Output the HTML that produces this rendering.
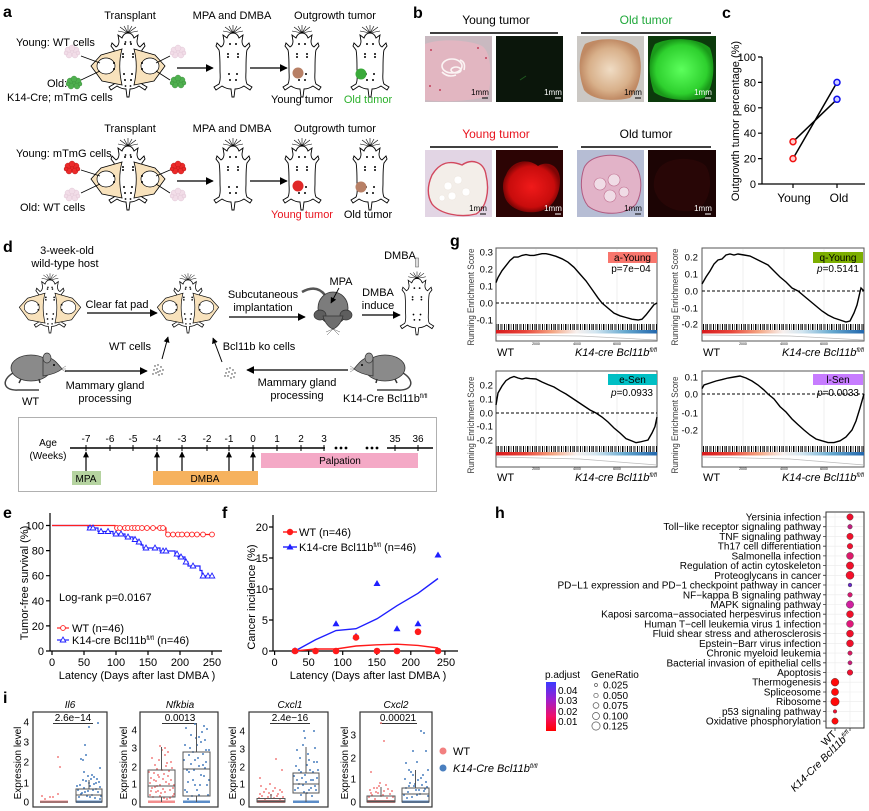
<!DOCTYPE html>
<html><head><meta charset="utf-8">
<style>
html,body{margin:0;padding:0;background:#fff;}
svg{display:block;}
text{font-family:"Liberation Sans",Arial,sans-serif;fill:#000;}
.t11{font-size:11px;}
.t10{font-size:10px;}
.b{font-weight:bold;font-size:16px;}
.it{font-style:italic;}
.g{fill:#4d4d4d;}
.rl{fill:#3a3a3a;}
</style></head><body>
<svg width="869" height="811" viewBox="0 0 869 811" xmlns="http://www.w3.org/2000/svg">
<defs>
<marker id="ar" viewBox="0 0 10 10" refX="9" refY="5" markerWidth="8" markerHeight="8" markerUnits="userSpaceOnUse" orient="auto"><path d="M0,0 L10,5 L0,10 z" fill="#000"/></marker>
<marker id="ars" viewBox="0 0 10 10" refX="9" refY="5" markerWidth="6" markerHeight="6" markerUnits="userSpaceOnUse" orient="auto"><path d="M0,0 L10,5 L0,10 z" fill="#000"/></marker>
<g id="m">
<path d="M0,-29 C-3,-29 -5,-27 -6,-24 L-10,-27 L-9,-21 C-9,-18 -10,-16 -12,-15 L-16,-19 L-17,-16 L-14,-12 C-13,-8 -13,0 -13,8 C-13,14 -12,18 -14,22 L-19,25 L-17,28 L-11,24 C-8,26 -4,27 -2,27 L-1,35 L1,35 L2,27 C4,27 8,26 11,24 L17,28 L19,25 L14,22 C12,18 13,14 13,8 C13,0 13,-8 14,-12 L17,-16 L16,-19 L12,-15 C10,-16 9,-18 9,-21 L10,-27 L6,-24 C5,-27 3,-29 0,-29 Z" fill="#fff" stroke="#000" stroke-width="0.9"/>
<path d="M0,-29 L-8,-35 M0,-29 L-4,-36 M0,-29 L0,-37 M0,-29 L4,-36 M0,-29 L8,-35 M0,-29 L-10,-31 M0,-29 L10,-31" stroke="#000" stroke-width="0.6"/>
<g fill="#000"><circle cx="-3" cy="-18" r="1"/><circle cx="3" cy="-18" r="1"/><circle cx="-5" cy="-8" r="1"/><circle cx="5" cy="-8" r="1"/><circle cx="-5" cy="-5" r="1"/><circle cx="5" cy="-5" r="1"/><circle cx="-4" cy="12" r="1"/><circle cx="4" cy="12" r="1"/><circle cx="-3" cy="18" r="1"/><circle cx="3" cy="18" r="1"/></g>
</g>
<g id="lobe">
<path d="M-6,-13 L-27,-7 L-37,4 L-26,19 L-6,23 C-9,10 -9,-2 -6,-13 Z" fill="#f8e2bc" stroke="#000" stroke-width="0.8"/>
<ellipse cx="-22" cy="4" rx="9" ry="8" fill="#fff" stroke="#000" stroke-width="0.7"/>
<path d="M-15,1 l2,0 M-15,7 l2,0" stroke="#000" stroke-width="1.6"/>
</g>
<g id="fm"><use href="#m"/><use href="#lobe"/><use href="#lobe" transform="scale(-1,1)"/>
<g fill="#000"><circle cx="-2.5" cy="-20" r="0.9"/><circle cx="2.5" cy="-20" r="0.9"/><circle cx="-2.5" cy="24" r="0.9"/><circle cx="2.5" cy="24" r="0.9"/></g></g>
<g id="cl"><circle cx="0" cy="0" r="4"/><circle cx="-4" cy="-2" r="3"/><circle cx="4" cy="-2" r="3"/><circle cx="-3" cy="3" r="3"/><circle cx="3" cy="3" r="3"/><circle cx="0" cy="-4" r="3"/><circle cx="-6" cy="1" r="2"/><circle cx="6" cy="1" r="2"/></g>
<g id="rat">
<path d="M-20,5 C-32,12 -30,23 -15,22 L6,22" stroke="#444" stroke-width="1.5" fill="none"/>
<ellipse cx="-2" cy="0" rx="20" ry="13" fill="#8a8a8a" stroke="#333" stroke-width="0.8"/>
<path d="M10,-10 C19,-13 25,-4 29,1 C24,5 17,7 10,8 Z" fill="#8a8a8a" stroke="#333" stroke-width="0.8"/>
<ellipse cx="14" cy="-10" rx="4" ry="5" fill="#9a9a9a" stroke="#333" stroke-width="0.7"/>
<circle cx="21" cy="-3" r="1" fill="#000"/>
<path d="M28,1 l5,-3 M28,1 l5,0 M28,1 l5,3" stroke="#555" stroke-width="0.4"/>
<path d="M-12,11 l-2,4 M6,11 l1,4" stroke="#333" stroke-width="1.5"/>
</g>
<pattern id="bc" width="19" height="10" patternUnits="userSpaceOnUse">
<rect x="0" y="0" width="1" height="10" fill="#000"/><rect x="2" width="0.6" height="10" fill="#000"/><rect x="3.6" width="1.2" height="10" fill="#000"/><rect x="6" width="0.5" height="10" fill="#000"/><rect x="7.5" width="0.9" height="10" fill="#000"/><rect x="10" width="1" height="10" fill="#000"/><rect x="12.4" width="0.5" height="10" fill="#000"/><rect x="14" width="1.4" height="10" fill="#000"/><rect x="16.8" width="0.6" height="10" fill="#000"/>
</pattern>
<linearGradient id="rb" x1="0" x2="1" y1="0" y2="0"><stop offset="0" stop-color="#d7191c"/><stop offset="0.18" stop-color="#e8453a"/><stop offset="0.35" stop-color="#f4a582"/><stop offset="0.5" stop-color="#f7f0ee"/><stop offset="0.62" stop-color="#d1e5f0"/><stop offset="0.8" stop-color="#67a9cf"/><stop offset="1" stop-color="#2166ac"/></linearGradient>
<linearGradient id="pa" x1="0" x2="0" y1="0" y2="1"><stop offset="0" stop-color="#3a3aff"/><stop offset="0.35" stop-color="#9b20d0"/><stop offset="0.7" stop-color="#f0106a"/><stop offset="1" stop-color="#ff0000"/></linearGradient>
<radialGradient id="gg" cx="0.5" cy="0.5" r="0.5"><stop offset="0" stop-color="#5cff5c"/><stop offset="0.8" stop-color="#2ed02e"/><stop offset="1" stop-color="#1a9a1a"/></radialGradient>
<radialGradient id="bg1" cx="0.5" cy="0.5" r="0.5"><stop offset="0" stop-color="#f0dcc4"/><stop offset="0.7" stop-color="#d8b08a"/><stop offset="1" stop-color="#c08a64"/></radialGradient>
<radialGradient id="rg" cx="0.5" cy="0.5" r="0.5"><stop offset="0" stop-color="#f01a1a"/><stop offset="0.8" stop-color="#c80c0c"/><stop offset="1" stop-color="#800505"/></radialGradient>
<g id="tri"><path d="M0,-3 L2.8,2 L-2.8,2 Z" fill="#fff" stroke="#1f1fff" stroke-width="0.9"/></g>
</defs>

<!-- ================= PANEL A ================= -->
<text x="3" y="17" class="b">a</text>
<text x="130" y="19" class="t11" text-anchor="middle">Transplant</text>
<text x="232" y="19" class="t11" text-anchor="middle">MPA and DMBA</text>
<text x="335" y="19" class="t11" text-anchor="middle">Outgrowth tumor</text>
<text x="16" y="46" class="t11">Young: WT cells</text>
<text x="47" y="87" class="t11">Old:</text>
<text x="7" y="101" class="t11">K14-Cre; mTmG cells</text>
<use href="#fm" transform="translate(128,62)"/>
<g fill="#f2dde8" stroke="#dcc0d0" stroke-width="0.4"><use href="#cl" x="72" y="52"/><use href="#cl" x="178" y="52"/></g>
<g fill="#4fb04f" stroke="#3a8a3a" stroke-width="0.4"><use href="#cl" x="74" y="83"/><use href="#cl" x="178" y="82"/></g>
<path d="M81,56 L100,63 M81,80 L100,71 M170,56 L156,63 M170,80 L156,71" stroke="#000" stroke-width="0.8"/>
<line x1="177" y1="68" x2="213" y2="68" stroke="#000" stroke-width="1.3" marker-end="url(#ar)"/>
<line x1="250" y1="68" x2="287" y2="68" stroke="#000" stroke-width="1.3" marker-end="url(#ar)"/>
<use href="#m" transform="translate(233,62)"/>
<use href="#m" transform="translate(302,62)"/>
<use href="#m" transform="translate(370,62)"/>
<circle cx="298" cy="73" r="5.5" fill="#b88066"/>
<circle cx="361" cy="74" r="5.5" fill="#3aaa3a"/>
<text x="302" y="103" class="t11" text-anchor="middle">Young tumor</text>
<text x="368" y="103" class="t11" text-anchor="middle" style="fill:#2bb02b">Old tumor</text>

<text x="130" y="132" class="t11" text-anchor="middle">Transplant</text>
<text x="232" y="132" class="t11" text-anchor="middle">MPA and DMBA</text>
<text x="335" y="132" class="t11" text-anchor="middle">Outgrowth tumor</text>
<text x="16" y="157" class="t11">Young: mTmG cells</text>
<text x="20" y="211" class="t11">Old: WT cells</text>
<use href="#fm" transform="translate(128,175)"/>
<g fill="#ec2a2a" stroke="#b01010" stroke-width="0.4"><use href="#cl" x="72" y="168"/><use href="#cl" x="178" y="168"/></g>
<g fill="#f2dde8" stroke="#dcc0d0" stroke-width="0.4"><use href="#cl" x="72" y="195"/><use href="#cl" x="178" y="195"/></g>
<path d="M81,170 L100,176 M81,193 L100,184 M170,170 L156,176 M170,193 L156,184" stroke="#000" stroke-width="0.8"/>
<line x1="177" y1="181" x2="213" y2="181" stroke="#000" stroke-width="1.3" marker-end="url(#ar)"/>
<line x1="250" y1="181" x2="287" y2="181" stroke="#000" stroke-width="1.3" marker-end="url(#ar)"/>
<use href="#m" transform="translate(233,175)"/>
<use href="#m" transform="translate(302,175)"/>
<use href="#m" transform="translate(370,175)"/>
<circle cx="298" cy="186" r="5.5" fill="#e02828"/>
<circle cx="361" cy="187" r="5.5" fill="#b88066"/>
<text x="302" y="218" class="t11" text-anchor="middle" style="fill:#e8141e">Young tumor</text>
<text x="368" y="218" class="t11" text-anchor="middle">Old tumor</text>

<!-- ================= PANEL B ================= -->
<text x="413" y="18" class="b">b</text>
<text x="496" y="24" text-anchor="middle" style="font-size:12px">Young tumor</text>
<text x="646" y="24" text-anchor="middle" style="font-size:12px;fill:#1fa83a">Old tumor</text>
<line x1="430" y1="33" x2="558" y2="33" stroke="#000" stroke-width="1.6"/>
<line x1="581" y1="33" x2="711" y2="33" stroke="#000" stroke-width="1.6"/>
<rect x="425" y="36" width="67" height="66" fill="#c9b9c0"/>
<path d="M425,44 C440,38 470,40 482,46 C492,52 492,80 488,96 C470,102 440,102 425,100 Z" fill="#e2b6c1"/>
<g fill="none" stroke="#fbf4f4" stroke-width="1.6"><ellipse cx="452" cy="66" rx="10" ry="7"/><ellipse cx="456" cy="70" rx="5" ry="3"/><path d="M442,72 q6,6 14,3 M460,60 q6,2 4,10"/></g>
<g fill="#c2405a"><circle cx="431" cy="50" r="1"/><circle cx="486" cy="58" r="1"/><circle cx="440" cy="90" r="1"/><circle cx="478" cy="48" r="1"/><circle cx="430" cy="86" r="1"/></g>
<rect x="496" y="36" width="67" height="66" fill="#0b160b"/>
<path d="M520,80 l6,-4" stroke="#1f5a1f" stroke-width="1"/>
<rect x="577" y="36" width="67" height="66" fill="#cbc8c4"/>
<path d="M585,44 C600,36 630,38 638,50 C644,66 640,88 630,98 C612,102 592,100 584,90 C578,74 578,56 585,44 Z" fill="url(#bg1)"/>
<rect x="648" y="36" width="68" height="66" fill="#0c3a0c"/>
<path d="M655,44 C670,36 700,38 710,48 C716,64 714,88 704,98 C688,102 664,100 654,92 C648,76 648,56 655,44 Z" fill="url(#gg)"/>
<g text-anchor="middle" style="font-size:8px">
<text x="480" y="95">1mm</text><text x="553" y="95" style="fill:#fff">1mm</text><text x="633" y="95">1mm</text><text x="703" y="95" style="fill:#fff">1mm</text></g>
<path d="M482,98 h6 M635,98 h6" stroke="#000" stroke-width="1"/>
<path d="M555,98 h6 M705,98 h6" stroke="#fff" stroke-width="1"/>

<text x="496" y="138" text-anchor="middle" style="font-size:12px;fill:#e8141e">Young tumor</text>
<text x="646" y="138" text-anchor="middle" style="font-size:12px">Old tumor</text>
<line x1="430" y1="147" x2="558" y2="147" stroke="#000" stroke-width="1.6"/>
<line x1="581" y1="147" x2="711" y2="147" stroke="#000" stroke-width="1.6"/>
<rect x="425" y="150" width="67" height="67" fill="#e2d5e4"/>
<path d="M432,175 C440,162 450,160 462,165 C472,158 484,162 486,175 C490,192 486,208 476,214 C460,218 440,214 432,204 C426,194 428,184 432,175 Z" fill="#f3eee9" stroke="#d2485e" stroke-width="1.4"/>
<g fill="#fff" stroke="#ece4dc" stroke-width="0.5"><circle cx="448" cy="186" r="4"/><circle cx="458" cy="180" r="4"/><circle cx="452" cy="196" r="4"/><circle cx="466" cy="192" r="4"/><circle cx="442" cy="198" r="3"/></g>
<rect x="496" y="150" width="67" height="67" fill="#2c0404"/>
<path d="M506,175 C512,160 528,158 538,166 C548,160 560,166 560,180 C560,196 552,210 536,212 C520,214 506,206 504,194 C502,186 503,180 506,175 Z" fill="url(#rg)"/>
<rect x="577" y="150" width="67" height="67" fill="#b6bdd4"/>
<path d="M584,168 C590,154 616,152 630,160 C642,168 644,190 636,204 C626,216 600,216 588,206 C580,196 580,180 584,168 Z" fill="#e2b3c8" stroke="#b05a80" stroke-width="1"/>
<g fill="#f0dce6" stroke="#c07090" stroke-width="0.6"><circle cx="600" cy="184" r="6"/><circle cx="614" cy="180" r="6"/><circle cx="610" cy="196" r="6"/><circle cx="624" cy="192" r="5"/></g>
<rect x="648" y="150" width="68" height="67" fill="#1c0404"/>
<path d="M658,170 C666,156 696,156 706,166 C714,180 710,204 696,210 C680,214 662,208 656,194 C652,186 654,176 658,170 Z" fill="#280606"/>
<g text-anchor="middle" style="font-size:8px">
<text x="478" y="211">1mm</text><text x="553" y="211" style="fill:#fff">1mm</text><text x="633" y="211">1mm</text><text x="703" y="211" style="fill:#fff">1mm</text></g>
<path d="M480,214 h6 M635,214 h6" stroke="#000" stroke-width="1"/>
<path d="M555,214 h6 M705,214 h6" stroke="#fff" stroke-width="1"/>

<!-- ================= PANEL C ================= -->
<text x="722" y="18" class="b">c</text>
<line x1="762" y1="57" x2="762" y2="184" stroke="#000" stroke-width="1.2"/>
<line x1="762" y1="184" x2="865" y2="184" stroke="#000" stroke-width="1.2"/>
<path d="M758,57 h4 M758,82.4 h4 M758,107.8 h4 M758,133.2 h4 M758,158.6 h4 M758,184 h4 M793,184 v4 M837,184 v4" stroke="#000" stroke-width="1.2"/>
<g class="t11" text-anchor="end"><text x="756" y="61">100</text><text x="756" y="86.4">80</text><text x="756" y="111.8">60</text><text x="756" y="137.2">40</text><text x="756" y="162.6">20</text><text x="756" y="188">0</text></g>
<text transform="translate(739,121) rotate(-90)" class="t11" text-anchor="middle">Outgrowth tumor percentage (%)</text>
<line x1="793" y1="141.7" x2="837" y2="99.3" stroke="#000" stroke-width="1.5"/>
<line x1="793" y1="158.6" x2="837" y2="82.4" stroke="#000" stroke-width="1.5"/>
<circle cx="793" cy="141.7" r="3" fill="#ffd0d0" stroke="#f01010" stroke-width="1.5"/>
<circle cx="793" cy="158.6" r="3" fill="#ffd0d0" stroke="#f01010" stroke-width="1.5"/>
<circle cx="837" cy="99.3" r="3" fill="#d0d0ff" stroke="#1010f0" stroke-width="1.5"/>
<circle cx="837" cy="82.4" r="3" fill="#d0d0ff" stroke="#1010f0" stroke-width="1.5"/>
<text x="794" y="202" text-anchor="middle" style="font-size:12px">Young</text>
<text x="839" y="202" text-anchor="middle" style="font-size:12px">Old</text>

<!-- ================= PANEL D ================= -->
<text x="3" y="252" class="b">d</text>
<text x="67" y="254" class="t11" text-anchor="middle">3-week-old</text>
<text x="65" y="267" class="t11" text-anchor="middle">wild-type host</text>
<use href="#fm" transform="translate(50,304) scale(0.83)"/>
<use href="#fm" transform="translate(188,304) scale(0.83)"/>
<line x1="87" y1="313" x2="157" y2="313" stroke="#000" stroke-width="1.3" marker-end="url(#ar)"/>
<text x="117" y="308" class="t11" text-anchor="middle">Clear fat pad</text>
<text x="263" y="298" class="t11" text-anchor="middle">Subcutaneous</text>
<text x="263" y="311" class="t11" text-anchor="middle">implantation</text>
<line x1="229" y1="317" x2="305" y2="317" stroke="#000" stroke-width="1.3" marker-end="url(#ar)"/>
<g transform="translate(333,310)">
<path d="M-8,-15 C-15,-24 -24,-22 -31,-18" stroke="#555" stroke-width="2.5" fill="none"/>
<ellipse cx="0" cy="-2" rx="15" ry="16" fill="#7c7c7c" stroke="#333" stroke-width="0.8"/>
<ellipse cx="-13" cy="5" rx="6" ry="5" fill="#5e5e5e" stroke="#333" stroke-width="0.7"/>
<ellipse cx="13" cy="5" rx="6" ry="5" fill="#5e5e5e" stroke="#333" stroke-width="0.7"/>
<path d="M-10,6 C-8,14 -3,18 0,19 C3,18 8,14 10,6 Z" fill="#6e6e6e" stroke="#333" stroke-width="0.7"/>
<path d="M0,19 l-7,3 M0,19 l-6,6 M0,19 l7,3 M0,19 l6,6" stroke="#333" stroke-width="0.4"/>
</g>
<text x="341" y="285" class="t11" text-anchor="middle">MPA</text>
<line x1="339" y1="288" x2="331" y2="303" stroke="#000" stroke-width="0.9" marker-end="url(#ars)"/>
<text x="378" y="296" class="t11" text-anchor="middle">DMBA</text>
<text x="378" y="309" class="t11" text-anchor="middle">induce</text>
<line x1="362" y1="315" x2="400" y2="315" stroke="#000" stroke-width="1.3" marker-end="url(#ar)"/>
<text x="400" y="259" class="t11" text-anchor="middle">DMBA</text>
<rect x="415.5" y="258" width="3" height="9" fill="#ddd" stroke="#555" stroke-width="0.5"/>
<use href="#m" transform="translate(417,304) scale(0.88)"/>
<text x="130" y="350" class="t11" text-anchor="middle">WT cells</text>
<text x="259" y="350" class="t11" text-anchor="middle">Bcl11b ko cells</text>
<line x1="162" y1="359" x2="168" y2="337" stroke="#000" stroke-width="1" marker-end="url(#ars)"/>
<line x1="222" y1="362" x2="213" y2="338" stroke="#000" stroke-width="1" marker-end="url(#ars)"/>
<g fill="#333"><circle cx="155" cy="366" r="0.7"/><circle cx="158" cy="365" r="0.7"/><circle cx="161" cy="367" r="0.7"/><circle cx="154" cy="370" r="0.7"/><circle cx="157" cy="369" r="0.7"/><circle cx="160" cy="371" r="0.7"/><circle cx="163" cy="370" r="0.7"/><circle cx="156" cy="373" r="0.7"/><circle cx="159" cy="375" r="0.7"/><circle cx="162" cy="374" r="0.7"/><circle cx="153" cy="374" r="0.7"/><circle cx="158" cy="372" r="0.7"/>
<circle cx="227" cy="369" r="0.7"/><circle cx="230" cy="368" r="0.7"/><circle cx="233" cy="370" r="0.7"/><circle cx="226" cy="373" r="0.7"/><circle cx="229" cy="372" r="0.7"/><circle cx="232" cy="374" r="0.7"/><circle cx="235" cy="373" r="0.7"/><circle cx="228" cy="376" r="0.7"/><circle cx="231" cy="378" r="0.7"/><circle cx="234" cy="377" r="0.7"/><circle cx="225" cy="376" r="0.7"/></g>
<use href="#rat" transform="translate(33,368)"/>
<use href="#rat" transform="translate(383,368) scale(-1,1)"/>
<line x1="65" y1="371" x2="147" y2="371" stroke="#000" stroke-width="1.3" marker-end="url(#ar)"/>
<line x1="348" y1="370" x2="247" y2="370" stroke="#000" stroke-width="1.3" marker-end="url(#ar)"/>
<text x="105" y="389" class="t11" text-anchor="middle">Mammary gland</text>
<text x="105" y="402" class="t11" text-anchor="middle">processing</text>
<text x="297" y="386" class="t11" text-anchor="middle">Mammary gland</text>
<text x="297" y="399" class="t11" text-anchor="middle">processing</text>
<text x="22" y="405" class="t11">WT</text>
<text x="343" y="402" class="t11">K14-Cre Bcl11b<tspan dy="-4" style="font-size:6px">fl/fl</tspan></text>
<rect x="18.5" y="417.5" width="418" height="74" fill="none" stroke="#b0b0b0" stroke-width="1"/>
<text x="48" y="446" class="t10" text-anchor="middle">Age</text>
<text x="48" y="459" class="t10" text-anchor="middle">(Weeks)</text>
<path d="M70,448 H325 M387,448 H433" stroke="#000" stroke-width="1.5"/>
<g fill="#000"><circle cx="336" cy="448" r="1.4"/><circle cx="341" cy="448" r="1.4"/><circle cx="346" cy="448" r="1.4"/><circle cx="367" cy="448" r="1.4"/><circle cx="372" cy="448" r="1.4"/><circle cx="377" cy="448" r="1.4"/></g>
<path d="M86,445 v6 M110,445 v6 M133,445 v6 M157,445 v6 M182,445 v6 M207,445 v6 M229,445 v6 M253,445 v6 M277,445 v6 M301,445 v6 M324,445 v6 M395,445 v6 M418,445 v6" stroke="#000" stroke-width="1"/>
<g class="t10" text-anchor="middle">
<text x="86" y="442">-7</text><text x="110" y="442">-6</text><text x="133" y="442">-5</text><text x="157" y="442">-4</text><text x="182" y="442">-3</text><text x="207" y="442">-2</text><text x="229" y="442">-1</text><text x="253" y="442">0</text><text x="277" y="442">1</text><text x="301" y="442">2</text><text x="324" y="442">3</text><text x="395" y="442">35</text><text x="418" y="442">36</text></g>
<rect x="72" y="471" width="29" height="14" fill="#b5d3a0"/>
<rect x="153" y="471" width="105" height="14" fill="#f6b25e"/>
<rect x="261" y="453" width="157" height="15" fill="#f4a9c6"/>
<g stroke="#000" stroke-width="1.2">
<line x1="86" y1="471" x2="86" y2="452" marker-end="url(#ars)"/>
<line x1="157" y1="471" x2="157" y2="452" marker-end="url(#ars)"/>
<line x1="182" y1="471" x2="182" y2="452" marker-end="url(#ars)"/>
<line x1="229" y1="471" x2="229" y2="452" marker-end="url(#ars)"/>
<line x1="253" y1="471" x2="253" y2="452" marker-end="url(#ars)"/></g>
<text x="86" y="482" class="t10" text-anchor="middle">MPA</text>
<text x="205" y="482" class="t10" text-anchor="middle">DMBA</text>
<text x="340" y="464" class="t10" text-anchor="middle">Palpation</text>

<!-- ================= PANEL G ================= -->
<text x="450" y="246" class="b">g</text>
<rect x="496" y="248" width="161" height="93" fill="#fff" stroke="#555" stroke-width="1"/>
<path d="M536,249 V324 M577,249 V324 M617,249 V324" stroke="#ececec" stroke-width="0.8"/>
<rect x="496" y="324" width="161" height="6" fill="url(#bc)"/>
<rect x="496" y="330" width="161" height="3.5" fill="url(#rb)"/>
<path d="M496,335 L580,336 L657,340" stroke="#bbb" stroke-width="0.8" fill="none"/>
<line x1="496" y1="303" x2="657" y2="303" stroke="#000" stroke-width="0.9" stroke-dasharray="3,2"/>
<polyline fill="none" stroke="#000" stroke-width="1.4" points="496,282.6 498,277.5 502,270.7 506,265.6 510,260.5 514,257.1 518,257.1 522,255.4 526,254.6 530,255.4 534,255.4 538,254.6 542,253.7 546,253.7 550,254.6 556,256.3 562,258.8 568,262.2 574,267.3 580,274.1 586,280.9 592,289.4 598,297.9 602,303 608,308.1 614,313.2 620,315.8 626,317.5 632,319.2 638,320 642,319.2 646,314.9 650,309.8 654,304.7 657,303"/>
<g style="font-size:9.6px" class="g" text-anchor="end"><text x="493" y="255.5">0.3</text><text x="493" y="272.5">0.2</text><text x="493" y="289.5">0.1</text><text x="493" y="306.5">0.0</text><text x="493" y="323.5">-0.1</text></g>
<g style="font-size:3.5px" class="g" text-anchor="middle"><text x="536" y="345">2000</text><text x="577" y="345">4000</text><text x="617" y="345">6000</text></g>
<text transform="translate(474,297) rotate(-90)" text-anchor="middle" style="font-size:8.8px" class="rl" textLength="97" lengthAdjust="spacingAndGlyphs">Running Enrichment Score</text>
<rect x="608" y="252" width="49" height="11" fill="#f8766d"/>
<text x="632.5" y="261" text-anchor="middle" style="font-size:10px">a-Young</text>
<text x="631" y="272" text-anchor="middle" style="font-size:10px">p=7e−04</text>
<text x="497" y="356" class="t11">WT</text>
<text x="657" y="356" class="t11 it" text-anchor="end">K14-cre Bcl11b<tspan dy="-4" style="font-size:6px">fl/fl</tspan></text>
<rect x="702" y="248" width="162" height="93" fill="#fff" stroke="#555" stroke-width="1"/>
<path d="M743,249 V324 M784,249 V324 M824,249 V324" stroke="#ececec" stroke-width="0.8"/>
<rect x="702" y="324" width="162" height="6" fill="url(#bc)"/>
<rect x="702" y="330" width="162" height="3.5" fill="url(#rb)"/>
<path d="M702,335 L790,336 L864,340" stroke="#bbb" stroke-width="0.8" fill="none"/>
<line x1="702" y1="291" x2="864" y2="291" stroke="#000" stroke-width="0.9" stroke-dasharray="3,2"/>
<polyline fill="none" stroke="#000" stroke-width="1.4" points="702,284 706,277 710,271 714,264 718,260 722,259 726,255 730,254 734,255 738,254 744,255 750,256 756,259 762,262 768,265 774,271 780,277 786,282 792,288 798,291 804,296 810,301 816,306 822,311 828,315 834,318 840,320 846,322 850,321 854,313 857,305 860,292 861,288 864,291"/>
<g style="font-size:9.6px" class="g" text-anchor="end"><text x="698" y="260.5">0.2</text><text x="698" y="277.5">0.1</text><text x="698" y="294.5">0.0</text><text x="698" y="311.5">-0.1</text><text x="698" y="327.5">-0.2</text></g>
<g style="font-size:3.5px" class="g" text-anchor="middle"><text x="743" y="345">2000</text><text x="784" y="345">4000</text><text x="824" y="345">6000</text></g>
<text transform="translate(678,297) rotate(-90)" text-anchor="middle" style="font-size:8.8px" class="rl" textLength="97" lengthAdjust="spacingAndGlyphs">Running Enrichment Score</text>
<rect x="813" y="252" width="50" height="11" fill="#7cae00"/>
<text x="838" y="261" text-anchor="middle" style="font-size:10px">q-Young</text>
<text x="838" y="272" text-anchor="middle" style="font-size:10px"><tspan class="it">p</tspan>=0.5141</text>
<text x="703" y="356" class="t11">WT</text>
<text x="864" y="356" class="t11 it" text-anchor="end">K14-cre Bcl11b<tspan dy="-4" style="font-size:6px">fl/fl</tspan></text>
<rect x="496" y="371" width="161" height="96" fill="#fff" stroke="#555" stroke-width="1"/>
<path d="M536,372 V446 M577,372 V446 M617,372 V446" stroke="#ececec" stroke-width="0.8"/>
<rect x="496" y="446" width="161" height="6" fill="url(#bc)"/>
<rect x="496" y="452" width="161" height="3.5" fill="url(#rb)"/>
<path d="M496,457 L580,459 L657,465" stroke="#bbb" stroke-width="0.8" fill="none"/>
<line x1="496" y1="413" x2="657" y2="413" stroke="#000" stroke-width="0.9" stroke-dasharray="3,2"/>
<polyline fill="none" stroke="#000" stroke-width="1.4" points="496,405 498,393 502,386 506,380.6 510,378 514,376.5 518,378 522,379 526,378 530,378.6 536,379 542,382 548,384.6 554,387 560,390.7 566,394 572,398 578,402 584,406 590,410 596,413 602,417 608,422 614,428 620,433 626,438.6 632,441 636,442.7 640,442 644,441 648,440 652,433 655,426.5 657,417"/>
<g style="font-size:9.6px" class="g" text-anchor="end"><text x="493" y="388.5">0.2</text><text x="493" y="402.5">0.1</text><text x="493" y="416.5">0.0</text><text x="493" y="429.5">-0.1</text><text x="493" y="443.5">-0.2</text></g>
<g style="font-size:3.5px" class="g" text-anchor="middle"><text x="536" y="470">2000</text><text x="577" y="470">4000</text><text x="617" y="470">6000</text></g>
<text transform="translate(474,425) rotate(-90)" text-anchor="middle" style="font-size:8.8px" class="rl" textLength="97" lengthAdjust="spacingAndGlyphs">Running Enrichment Score</text>
<rect x="608" y="374" width="49" height="11" fill="#00bfc4"/>
<text x="632.5" y="383" text-anchor="middle" style="font-size:10px">e-Sen</text>
<text x="632" y="396" text-anchor="middle" style="font-size:10px"><tspan class="it">p</tspan>=0.0933</text>
<text x="497" y="481" class="t11">WT</text>
<text x="657" y="481" class="t11 it" text-anchor="end">K14-cre Bcl11b<tspan dy="-4" style="font-size:6px">fl/fl</tspan></text>
<rect x="702" y="371" width="162" height="96" fill="#fff" stroke="#555" stroke-width="1"/>
<path d="M743,372 V446 M784,372 V446 M824,372 V446" stroke="#ececec" stroke-width="0.8"/>
<rect x="702" y="446" width="162" height="6" fill="url(#bc)"/>
<rect x="702" y="452" width="162" height="3.5" fill="url(#rb)"/>
<path d="M702,457 L790,459 L864,465" stroke="#bbb" stroke-width="0.8" fill="none"/>
<line x1="702" y1="394" x2="864" y2="394" stroke="#000" stroke-width="0.9" stroke-dasharray="3,2"/>
<polyline fill="none" stroke="#000" stroke-width="1.4" points="702,388.6 704,385 710,383 716,381 722,379.6 728,378 734,377 740,376 746,378 752,381 758,385 764,390 768,394 774,399 780,406.6 786,412 792,419 798,424.6 804,430 810,435 816,439 822,440.8 828,442.6 834,442.6 840,440.8 846,437 852,430 856,421 860,408 864,394"/>
<g style="font-size:9.6px" class="g" text-anchor="end"><text x="698" y="380.5">0.1</text><text x="698" y="397.5">0.0</text><text x="698" y="416.5">-0.1</text><text x="698" y="433.5">-0.2</text></g>
<g style="font-size:3.5px" class="g" text-anchor="middle"><text x="743" y="470">2000</text><text x="784" y="470">4000</text><text x="824" y="470">6000</text></g>
<text transform="translate(678,425) rotate(-90)" text-anchor="middle" style="font-size:8.8px" class="rl" textLength="97" lengthAdjust="spacingAndGlyphs">Running Enrichment Score</text>
<rect x="813" y="374" width="50" height="11" fill="#c77cff"/>
<text x="838" y="383" text-anchor="middle" style="font-size:10px">l-Sen</text>
<text x="838" y="396" text-anchor="middle" style="font-size:10px"><tspan class="it">p</tspan>=0.0033</text>
<text x="703" y="481" class="t11">WT</text>
<text x="864" y="481" class="t11 it" text-anchor="end">K14-cre Bcl11b<tspan dy="-4" style="font-size:6px">fl/fl</tspan></text>

<!-- ================= PANEL E ================= -->
<text x="3" y="518" class="b">e</text>
<line x1="50" y1="513" x2="50" y2="651" stroke="#000" stroke-width="1.2"/>
<line x1="50" y1="651" x2="222" y2="651" stroke="#000" stroke-width="1.2"/>
<path d="M46,525.5 h4 M46,550.6 h4 M46,575.7 h4 M46,600.8 h4 M46,625.9 h4 M46,651 h4 M52,651 v4 M84,651 v4 M116,651 v4 M148,651 v4 M180,651 v4 M212,651 v4" stroke="#000" stroke-width="1.2"/>
<g class="t11" text-anchor="end"><text x="44" y="529.5">100</text><text x="44" y="554.6">80</text><text x="44" y="579.7">60</text><text x="44" y="604.8">40</text><text x="44" y="629.9">20</text><text x="44" y="655">0</text></g>
<g class="t11" text-anchor="middle"><text x="52" y="666">0</text><text x="84" y="666">50</text><text x="116" y="666">100</text><text x="148" y="666">150</text><text x="180" y="666">200</text><text x="212" y="666">250</text></g>
<text transform="translate(28,583) rotate(-90)" class="t11" text-anchor="middle">Tumor-free survival (%)</text>
<text x="137" y="679" class="t11" text-anchor="middle">Latency (Days after last DMBA )</text>
<path d="M52,525.5 H88 V528 H98 V531.5 H113 V534 H125 V537 H133 V539.5 H137 V542 H141 V545 H143 V548 H160 V551 H175 V554 H178 V557 H185 V562 H188 V566 H200 V570.5 H202 V576 H213" fill="none" stroke="#1f1fff" stroke-width="1.2"/>
<path d="M52,525.5 H115 V528 H166 V534.5 H212" fill="none" stroke="#ff2020" stroke-width="1.2"/>
<g fill="#fff" stroke="#ff2020" stroke-width="0.9">
<circle cx="117" cy="528" r="2.4"/><circle cx="120" cy="528" r="2.4"/><circle cx="125" cy="528" r="2.4"/><circle cx="128" cy="528" r="2.4"/><circle cx="132" cy="528" r="2.4"/><circle cx="135" cy="528" r="2.4"/><circle cx="138" cy="528" r="2.4"/><circle cx="142" cy="528" r="2.4"/><circle cx="147" cy="528" r="2.4"/><circle cx="153" cy="528" r="2.4"/><circle cx="160" cy="528" r="2.4"/><circle cx="163" cy="528" r="2.4"/>
<circle cx="168" cy="534.5" r="2.4"/><circle cx="173" cy="534.5" r="2.4"/><circle cx="178" cy="534.5" r="2.4"/><circle cx="182" cy="534.5" r="2.4"/><circle cx="187" cy="534.5" r="2.4"/><circle cx="192" cy="534.5" r="2.4"/><circle cx="197" cy="534.5" r="2.4"/><circle cx="203" cy="534.5" r="2.4"/><circle cx="212" cy="534.5" r="2.4"/></g>
<use href="#tri" x="90" y="528"/><use href="#tri" x="93" y="528"/><use href="#tri" x="101" y="531.5"/><use href="#tri" x="108" y="531.5"/><use href="#tri" x="116" y="534"/><use href="#tri" x="121" y="534"/><use href="#tri" x="128" y="537"/><use href="#tri" x="135" y="539.5"/><use href="#tri" x="139" y="542"/><use href="#tri" x="146" y="548"/><use href="#tri" x="155" y="548"/><use href="#tri" x="163" y="551"/><use href="#tri" x="166" y="551"/><use href="#tri" x="177" y="554"/><use href="#tri" x="181" y="557"/><use href="#tri" x="186" y="562"/><use href="#tri" x="193" y="566"/><use href="#tri" x="203" y="576"/><use href="#tri" x="208" y="576"/><use href="#tri" x="212" y="576"/>
<text x="59" y="601" class="t11">Log-rank p=0.0167</text>
<line x1="57" y1="628" x2="69" y2="628" stroke="#ff2020" stroke-width="1.2"/><circle cx="63" cy="628" r="2.4" fill="#fff" stroke="#ff2020" stroke-width="0.9"/>
<text x="72" y="632" class="t11">WT (n=46)</text>
<line x1="57" y1="640" x2="69" y2="640" stroke="#1f1fff" stroke-width="1.2"/><use href="#tri" x="63" y="640"/>
<text x="72" y="644" class="t11">K14-cre Bcl11b<tspan dy="-4" style="font-size:6px">fl/fl</tspan><tspan dy="4"> (n=46)</tspan></text>

<!-- ================= PANEL F ================= -->
<text x="222" y="518" class="b">f</text>
<line x1="273" y1="515" x2="273" y2="651" stroke="#000" stroke-width="1.2"/>
<line x1="273" y1="651" x2="458" y2="651" stroke="#000" stroke-width="1.2"/>
<path d="M269,527 h4 M269,558 h4 M269,589 h4 M269,620 h4 M269,651 h4 M274.6,651 v4 M308.6,651 v4 M342.7,651 v4 M376.8,651 v4 M410.8,651 v4 M444.9,651 v4" stroke="#000" stroke-width="1.2"/>
<g class="t11" text-anchor="end"><text x="268" y="531">20</text><text x="268" y="562">15</text><text x="268" y="593">10</text><text x="268" y="624">5</text><text x="268" y="655">0</text></g>
<g class="t11" text-anchor="middle"><text x="274.6" y="666">0</text><text x="308.6" y="666">50</text><text x="342.7" y="666">100</text><text x="376.8" y="666">150</text><text x="410.8" y="666">200</text><text x="446" y="666">250</text></g>
<text transform="translate(255,597) rotate(-90)" class="t11" text-anchor="middle">Cancer incidence (%)</text>
<text x="368" y="679" class="t11" text-anchor="middle">Latency (Days after last DMBA )</text>
<polyline fill="none" stroke="#1f1fff" stroke-width="1.4" points="295,651 315.5,639.8 336,630.5 356,628.7 377,618.8 397,605.7 418,593.3 438,578.5"/>
<polyline fill="none" stroke="#ff1a1a" stroke-width="1.4" points="295,651 315.5,649 336,649 356,646 377,644.8 397,644.2 418,645.4 438,648"/>
<g fill="#1f1fff"><path d="M295,647 l3.5,6 h-7z"/><path d="M336,620.3 l3.5,6 h-7z"/><path d="M356,632.7 l3.5,6 h-7z"/><path d="M377,580 l3.5,6 h-7z"/><path d="M397,625.3 l3.5,6 h-7z"/><path d="M418,620.3 l3.5,6 h-7z"/><path d="M438,551.5 l3.5,6 h-7z"/></g>
<g fill="#ff1a1a"><circle cx="295" cy="651" r="3.3"/><circle cx="315.5" cy="651" r="3.3"/><circle cx="336" cy="651" r="3.3"/><circle cx="356" cy="637.4" r="3.3"/><circle cx="377" cy="651" r="3.3"/><circle cx="397" cy="651" r="3.3"/><circle cx="418" cy="631.8" r="3.3"/><circle cx="438" cy="651" r="3.3"/></g>
<line x1="283" y1="532" x2="297" y2="532" stroke="#ff1a1a" stroke-width="1.4"/><circle cx="290" cy="532" r="3.2" fill="#ff1a1a"/>
<text x="299" y="536" class="t11">WT (n=46)</text>
<line x1="283" y1="547" x2="297" y2="547" stroke="#1f1fff" stroke-width="1.4"/><path d="M290,543.5 l3.5,6 h-7z" fill="#1f1fff"/>
<text x="299" y="551" class="t11">K14-cre Bcl11b<tspan dy="-4" style="font-size:6px">fl/fl</tspan><tspan dy="4"> (n=46)</tspan></text>

<!-- ================= PANEL H ================= -->
<text x="495" y="518" class="b">h</text>
<rect x="826" y="512" width="38" height="216" fill="#fff" stroke="#333" stroke-width="1"/>
<g stroke="#ebebeb" stroke-width="0.6">
<path d="M835,513 V727 M850,513 V727"/>
<path d="M827,517 H863 M827,526.7 H863 M827,536.4 H863 M827,546.2 H863 M827,555.9 H863 M827,565.6 H863 M827,575.3 H863 M827,585 H863 M827,594.8 H863 M827,604.5 H863 M827,614.2 H863 M827,623.9 H863 M827,633.6 H863 M827,643.4 H863 M827,653.1 H863 M827,662.8 H863 M827,672.5 H863 M827,682.2 H863 M827,692 H863 M827,701.7 H863 M827,711.4 H863 M827,721.1 H863"/></g>
<g style="font-size:10px" text-anchor="end" fill="#1a1a1a">
<text x="821" y="520.5">Yersinia infection</text>
<text x="821" y="530.2">Toll−like receptor signaling pathway</text>
<text x="821" y="539.9">TNF signaling pathway</text>
<text x="821" y="549.7">Th17 cell differentiation</text>
<text x="821" y="559.4">Salmonella infection</text>
<text x="821" y="569.1">Regulation of actin cytoskeleton</text>
<text x="821" y="578.8">Proteoglycans in cancer</text>
<text x="821" y="588.5">PD−L1 expression and PD−1 checkpoint pathway in cancer</text>
<text x="821" y="598.3">NF−kappa B signaling pathway</text>
<text x="821" y="608">MAPK signaling pathway</text>
<text x="821" y="617.7">Kaposi sarcoma−associated herpesvirus infection</text>
<text x="821" y="627.4">Human T−cell leukemia virus 1 infection</text>
<text x="821" y="637.1">Fluid shear stress and atherosclerosis</text>
<text x="821" y="646.9">Epstein−Barr virus infection</text>
<text x="821" y="656.6">Chronic myeloid leukemia</text>
<text x="821" y="666.3">Bacterial invasion of epithelial cells</text>
<text x="821" y="676">Apoptosis</text>
<text x="821" y="685.7">Thermogenesis</text>
<text x="821" y="695.5">Spliceosome</text>
<text x="821" y="705.2">Ribosome</text>
<text x="821" y="714.9">p53 signaling pathway</text>
<text x="821" y="724.6">Oxidative phosphorylation</text></g>
<path d="M823,517 h3 M823,526.7 h3 M823,536.4 h3 M823,546.2 h3 M823,555.9 h3 M823,565.6 h3 M823,575.3 h3 M823,585 h3 M823,594.8 h3 M823,604.5 h3 M823,614.2 h3 M823,623.9 h3 M823,633.6 h3 M823,643.4 h3 M823,653.1 h3 M823,662.8 h3 M823,672.5 h3 M823,682.2 h3 M823,692 h3 M823,701.7 h3 M823,711.4 h3 M823,721.1 h3 M835,728 v3 M850,728 v3" stroke="#333" stroke-width="0.8"/>
<g stroke="#333" stroke-width="0.4">
<circle cx="850" cy="517" r="3.2" fill="#ee0e2e"/>
<circle cx="850" cy="526.7" r="2.3" fill="#c0207f"/>
<circle cx="850" cy="536.4" r="3.2" fill="#f0102a"/>
<circle cx="850" cy="546.2" r="2.8" fill="#f01030"/>
<circle cx="850" cy="555.9" r="3.5" fill="#dc1a6a"/>
<circle cx="850" cy="565.6" r="3.7" fill="#f0102a"/>
<circle cx="850" cy="575.3" r="4" fill="#f5102a"/>
<circle cx="850" cy="585" r="1.9" fill="#6a28c8"/>
<circle cx="850" cy="594.8" r="2.3" fill="#d41870"/>
<circle cx="850" cy="604.5" r="3.7" fill="#d020a0"/>
<circle cx="850" cy="614.2" r="3.5" fill="#f0102a"/>
<circle cx="850" cy="623.9" r="3.5" fill="#e0187a"/>
<circle cx="850" cy="633.6" r="3.5" fill="#f0102a"/>
<circle cx="850" cy="643.4" r="3.5" fill="#f0102a"/>
<circle cx="850" cy="653.1" r="2.2" fill="#d81860"/>
<circle cx="850" cy="662.8" r="2.1" fill="#c81c78"/>
<circle cx="850" cy="672.5" r="2.8" fill="#f01030"/>
<circle cx="835" cy="682.2" r="3.9" fill="#ff0a0a"/>
<circle cx="835" cy="692" r="3.6" fill="#ff0a0a"/>
<circle cx="835" cy="701.7" r="4.2" fill="#ff0a0a"/>
<circle cx="835" cy="711.4" r="1.8" fill="#f01030"/>
<circle cx="835" cy="721.1" r="3.2" fill="#ff0a0a"/></g>
<text transform="translate(837,735) rotate(-45)" text-anchor="end" style="font-size:10.5px">WT</text>
<text transform="translate(852,735) rotate(-45)" text-anchor="end" class="it" style="font-size:10.5px">K14-Cre Bcl11b<tspan dy="-4" style="font-size:6px">fl/fl</tspan></text>
<text x="545" y="678" class="t10">p.adjust</text>
<rect x="546" y="682" width="10" height="49" fill="url(#pa)"/>
<g class="t10"><text x="558" y="694">0.04</text><text x="558" y="704">0.03</text><text x="558" y="715">0.02</text><text x="558" y="725">0.01</text></g>
<text x="591" y="678" class="t10">GeneRatio</text>
<g fill="none" stroke="#555" stroke-width="0.7"><circle cx="596" cy="685" r="1.5"/><circle cx="596" cy="695.5" r="2.2"/><circle cx="596" cy="705.5" r="2.9"/><circle cx="596" cy="716" r="3.5"/><circle cx="596" cy="726" r="4.1"/></g>
<g class="t10"><text x="603" y="688.5">0.025</text><text x="603" y="699">0.050</text><text x="603" y="709">0.075</text><text x="603" y="719.5">0.100</text><text x="603" y="729.5">0.125</text></g>

<!-- ================= PANEL I ================= -->
<text x="3" y="703" class="b">i</text>
<g fill="none" stroke="#333" stroke-width="1.2">
<rect x="33" y="712" width="74" height="95"/>
<rect x="140" y="712" width="78" height="95"/>
<rect x="249" y="712" width="79" height="95"/>
<rect x="360" y="712" width="72" height="95"/></g>
<g class="t10 it" text-anchor="middle"><text x="70" y="708">Il6</text><text x="180" y="708">Nfkbia</text><text x="290" y="708">Cxcl1</text><text x="396" y="708">Cxcl2</text></g>
<g class="t10" text-anchor="middle"><text x="73" y="721">2.6e−14</text><text x="180" y="721">0.0013</text><text x="290" y="721">2.4e−16</text><text x="398" y="721">0.00021</text></g>
<path d="M53,723.5 H93 M162,723.5 H197 M270,723.5 H310 M380,723.5 H417" stroke="#333" stroke-width="1"/>
<g class="t10" text-anchor="end" fill="#222">
<text x="29" y="725.5">4</text><text x="29" y="745.5">3</text><text x="29" y="765.5">2</text><text x="29" y="786.5">1</text><text x="29" y="805.5">0</text>
<text x="137" y="733.5">4</text><text x="137" y="751.5">3</text><text x="137" y="770.5">2</text><text x="137" y="787.5">1</text><text x="137" y="805.5">0</text>
<text x="245" y="734.5">4</text><text x="245" y="752.5">3</text><text x="245" y="770.5">2</text><text x="245" y="787.5">1</text><text x="245" y="805.5">0</text>
<text x="356" y="738.5">3</text><text x="356" y="761.5">2</text><text x="356" y="782.5">1</text><text x="356" y="805.5">0</text></g>
<g class="t10" text-anchor="middle">
<text transform="translate(21,763) rotate(-90)">Expression level</text>
<text transform="translate(127,763) rotate(-90)">Expression level</text>
<text transform="translate(236,763) rotate(-90)">Expression level</text>
<text transform="translate(348,763) rotate(-90)">Expression level</text></g>
<g fill="#f28e8e"><rect x="40" y="800.5" width="28" height="2.5"/><rect x="148" y="800.5" width="27" height="2.5"/><rect x="257" y="800" width="28" height="3"/><rect x="367" y="800" width="28" height="3"/></g>
<g fill="#5b8cc7"><rect x="76" y="800.5" width="26" height="2.5"/><rect x="183" y="800.5" width="27" height="2.5"/><rect x="293" y="800.5" width="26" height="2.5"/><rect x="402" y="800.5" width="27" height="2.5"/></g>
<path fill="none" stroke="#f28080" stroke-width="2" stroke-linecap="round" d="M42 796h0M50 797h0M53 797h0M58 794h0M58 757h0M60 767h0M45 799h0
M150 795h0M152 788h0M154 780h0M156 792h0M158 775h0M160 785h0M162 770h0M164 798h0M166 782h0M168 776h0M170 790h0M172 768h0M174 794h0M149 772h0M151 778h0M153 797h0M155 765h0M157 786h0M159 760h0M161 793h0M163 779h0M165 755h0M167 799h0M169 784h0M171 762h0M173 788h0M150 783h0M157 769h0M163 789h0M168 752h0M154 773h0M160 796h0M166 766h0M171 780h0M152 758h0M158 791h0M164 774h0M170 798h0M156 781h0M162 750h0M169 771h0M174 785h0M151 791h0M159 777h0M167 763h0M173 796h0M155 787h0M165 792h0M160 746h0M165 748h0
M259 798h0M262 796h0M265 799h0M268 797h0M271 795h0M274 798h0M277 796h0M280 799h0M283 797h0M260 794h0M264 792h0M269 793h0M273 791h0M278 794h0M282 792h0M266 789h0M275 788h0M261 786h0M280 790h0M260 778h0M276 759h0M282 770h0M270 784h0
M369 797h0M372 795h0M375 799h0M378 793h0M381 796h0M384 791h0M387 798h0M390 794h0M393 797h0M370 790h0M374 788h0M379 786h0M383 795h0M388 789h0M392 791h0M376 792h0M386 785h0M371 793h0M380 783h0M371 772h0M384 741h0M381 723h0M377 788h0"/>
<path fill="none" stroke="#4a7fbf" stroke-width="2" stroke-linecap="round" d="M78 790h0M80 785h0M82 793h0M84 788h0M86 781h0M88 791h0M90 786h0M92 795h0M94 784h0M96 789h0M98 792h0M100 787h0M79 797h0M83 780h0M87 796h0M91 779h0M95 798h0M99 782h0M81 794h0M89 783h0M93 790h0M97 779h0M101 796h0M85 792h0M77 786h0M90 797h0M94 777h0M88 776h0M96 783h0M100 799h0M81 759h0M83 760h0M86 755h0M85 745h0M89 727h0M98 723h0M100 768h0M92 775h0M84 772h0
M185 790h0M187 770h0M189 755h0M191 735h0M193 780h0M195 760h0M197 745h0M199 795h0M201 775h0M203 765h0M205 740h0M207 785h0M209 750h0M184 760h0M186 728h0M188 782h0M190 748h0M192 796h0M194 770h0M196 738h0M198 758h0M200 785h0M202 732h0M204 776h0M206 762h0M208 795h0M185 745h0M189 772h0M193 752h0M197 790h0M201 742h0M205 768h0M209 780h0M187 792h0M191 764h0M195 785h0M199 737h0M203 754h0M207 729h0M195 724h0M204 726h0M188 799h0M199 766h0M206 750h0
M295 790h0M297 780h0M299 770h0M301 795h0M303 785h0M305 775h0M307 765h0M309 790h0M311 780h0M313 772h0M315 786h0M317 778h0M294 776h0M296 766h0M298 788h0M300 758h0M302 778h0M304 792h0M306 782h0M308 754h0M310 770h0M312 796h0M314 762h0M316 790h0M318 770h0M297 750h0M303 745h0M309 760h0M315 748h0M305 738h0M299 784h0M311 788h0M301 772h0M313 780h0M307 793h0M317 762h0M304 731h0M314 731h0
M404 795h0M406 788h0M408 792h0M410 783h0M412 797h0M414 786h0M416 790h0M418 780h0M420 794h0M422 785h0M424 791h0M426 782h0M428 796h0M405 779h0M409 786h0M413 775h0M417 795h0M421 778h0M425 789h0M407 798h0M411 772h0M415 784h0M419 790h0M423 775h0M427 787h0M406 763h0M413 751h0M421 731h0M424 733h0M417 762h0M426 751h0M409 770h0M428 770h0"/>
<g fill="none" stroke="#555" stroke-width="1">
<path d="M40,802 H68"/>
<rect x="76" y="789" width="26" height="13"/><path d="M76,795 H102 M89,789 V780"/>
<rect x="148" y="770" width="27" height="27"/><path d="M148,786 H175 M161.5,770 V747 M161.5,797 V802"/>
<rect x="183" y="752" width="27" height="44"/><path d="M183,769 H210 M196.5,752 V723 M196.5,796 V802"/>
<rect x="257" y="798.5" width="28" height="3.5"/><path d="M257,801 H285 M271,798.5 V794"/>
<rect x="293" y="773" width="26" height="20"/><path d="M293,784 H319 M306,773 V747 M306,793 V802"/>
<rect x="367" y="796" width="28" height="6"/><path d="M367,801 H395 M381,796 V787"/>
<rect x="402" y="788" width="27" height="14"/><path d="M402,794 H429 M415.5,788 V770"/></g>
<circle cx="443" cy="751" r="3.5" fill="#f28080"/>
<text x="453" y="755" class="t11">WT</text>
<circle cx="443" cy="768" r="3.5" fill="#4a7fbf"/>
<text x="453" y="772" class="t11 it">K14-Cre Bcl11b<tspan dy="-4" style="font-size:6px">fl/fl</tspan></text>
</svg>
</body></html>
